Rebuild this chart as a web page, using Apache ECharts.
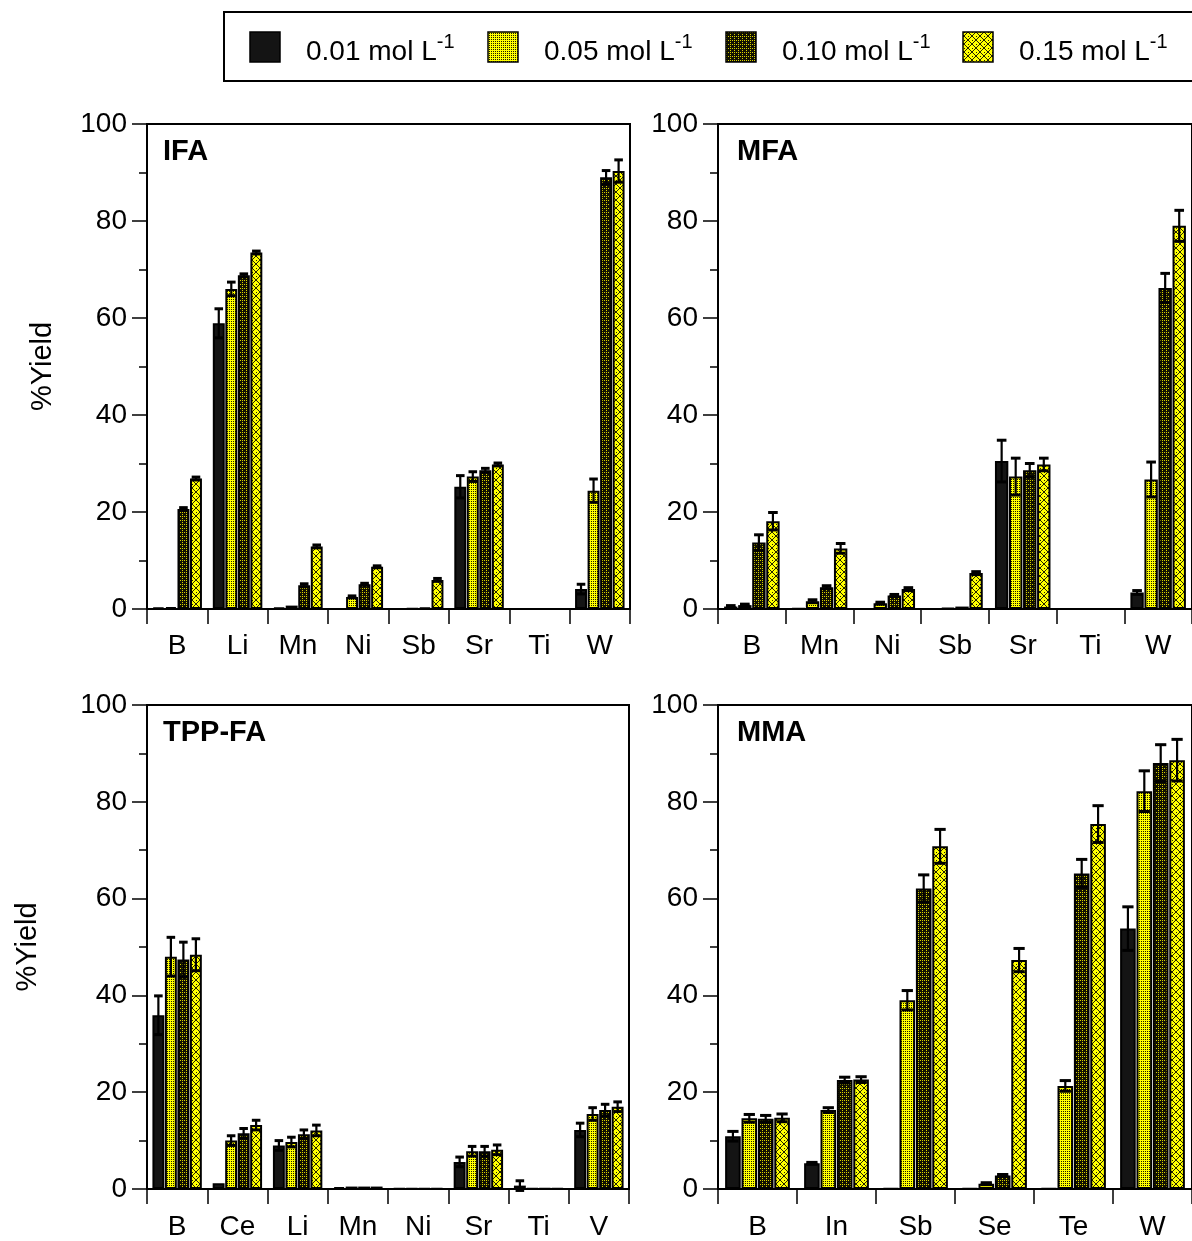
<!DOCTYPE html>
<html>
<head>
<meta charset="utf-8">
<script src="https://cdn.jsdelivr.net/npm/echarts@6/dist/echarts.min.js"></script>
<style>html,body{margin:0;padding:0;background:#fff;}#c{width:1192px;height:1241px;}</style>
</head>
<body>
<div id="c"></div>
<script>
// ---------- DATA ----------
const seriesNames = ['0.01', '0.05', '0.10', '0.15'];
const yTicks = [0, 20, 40, 60, 80, 100];

const ifaCats = ['B', 'Li', 'Mn', 'Ni', 'Sb', 'Sr', 'Ti', 'W'];
const ifa01 = [0.3, 58.9, 0.3, 0, 0, 25.2, 0, 4.1];
const ifa05 = [0.4, 66.0, 0.7, 2.5, 0.1, 27.3, -0.1, 24.4];
const ifa10 = [20.6, 68.8, 4.9, 5.1, 0.3, 28.6, -0.3, 89.0];
const ifa15 = [26.9, 73.5, 12.9, 8.7, 6.0, 29.8, -0.2, 90.3];
const ifa01e = [0, 3.0, 0, 0, 0, 2.3, 0, 1.0];
const ifa05e = [0, 1.4, 0, 0.2, 0, 1.0, 0, 2.4];
const ifa10e = [0.3, 0.3, 0.3, 0.2, 0, 0.4, 0, 1.4];
const ifa15e = [0.3, 0.3, 0.3, 0.2, 0.3, 0.3, 0, 2.3];

const mfaCats = ['B', 'Mn', 'Ni', 'Sb', 'Sr', 'Ti', 'W'];
const mfa01 = [0.5, 0.1, 0, 0, 30.5, 0, 3.4];
const mfa05 = [0.8, 1.6, 1.2, 0.2, 27.3, -0.1, 26.7];
const mfa10 = [13.7, 4.5, 2.8, 0.5, 28.6, -0.3, 66.2];
const mfa15 = [18.1, 12.5, 4.1, 7.4, 29.8, -0.1, 79.0];
const mfa01e = [0.2, 0, 0, 0, 4.3, 0, 0.4];
const mfa05e = [0.2, 0.3, 0.2, 0, 3.8, 0, 3.6];
const mfa10e = [1.6, 0.3, 0.2, 0, 1.4, 0, 3.0];
const mfa15e = [1.8, 1.0, 0.3, 0.3, 1.3, 0, 3.2];

const tppCats = ['B', 'Ce', 'Li', 'Mn', 'Ni', 'Sr', 'Ti', 'V'];
const tpp01 = [35.9, 1.2, 9.0, 0.4, 0.1, 5.6, 0.7, 12.2];
const tpp05 = [48.0, 10.0, 9.7, 0.5, 0.1, 7.8, 0.1, 15.5];
const tpp10 = [47.4, 11.5, 11.3, 0.5, 0.1, 7.8, 0.1, 16.3];
const tpp15 = [48.4, 13.2, 12.1, 0.5, 0.1, 8.1, 0.1, 17.0];
const tpp01e = [4.0, 0, 1.0, 0, 0, 1.0, 1.0, 1.4];
const tpp05e = [4.0, 1.0, 1.0, 0, 0, 1.0, 0, 1.3];
const tpp10e = [3.6, 1.0, 0.9, 0, 0, 1.0, 0, 1.2];
const tpp15e = [3.3, 1.0, 1.1, 0, 0, 1.0, 0, 1.0];

const mmaCats = ['B', 'In', 'Sb', 'Se', 'Te', 'W'];
const mma01 = [10.9, 5.3, 0.1, 0.1, 0.1, 53.8];
const mma05 = [14.6, 16.3, 39.0, 1.1, 21.3, 82.2];
const mma10 = [14.5, 22.5, 62.1, 2.8, 65.2, 88.0];
const mma15 = [14.7, 22.6, 70.8, 47.3, 75.4, 88.6];
const mma01e = [1.0, 0.2, 0, 0, 0, 4.5];
const mma05e = [0.8, 0.5, 2.0, 0.2, 1.1, 4.2];
const mma10e = [0.7, 0.6, 2.8, 0.2, 2.9, 3.8];
const mma15e = [0.8, 0.6, 3.5, 2.4, 3.8, 4.3];

// ---------- STYLE ----------
const FONT = '"Liberation Sans", Arial, Helvetica, sans-serif';
const CAT_GAP = 0.18, BAR_GAP = 0.05, NBAR = 4;

function pattern(kind) {
  const c = document.createElement('canvas');
  const s = kind === 4 ? 8 : 4;
  c.width = s; c.height = s;
  const g = c.getContext('2d');
  if (kind === 2) {
    g.fillStyle = '#ffff00'; g.fillRect(0, 0, s, s);
    g.fillStyle = '#1a1a00';
    g.fillRect(1, 1, 1, 1); g.fillRect(3, 1, 1, 1); g.fillRect(1, 3, 1, 1); g.fillRect(3, 3, 1, 1);
  } else if (kind === 3) {
    g.fillStyle = '#111100'; g.fillRect(0, 0, s, s);
    g.fillStyle = '#d8d000';
    g.fillRect(0, 0, 1, 1); g.fillRect(2, 2, 1, 1); g.fillRect(2, 0, 1, 1);
  } else {
    g.fillStyle = '#ffff00'; g.fillRect(0, 0, s, s);
    g.fillStyle = '#222200';
    for (let i = 0; i < s; i++) { g.fillRect(i, i, 1, 1); g.fillRect(s - 1 - i, i, 1, 1); }
    g.fillRect(0, 4, 1, 1); g.fillRect(4, 0, 1, 1);
  }
  return { image: c, repeat: 'repeat' };
}
const fills = ['#141414', pattern(2), pattern(3), pattern(4)];

const panels = [
  { title: 'IFA', cats: ifaCats, vals: [ifa01, ifa05, ifa10, ifa15], errs: [ifa01e, ifa05e, ifa10e, ifa15e],
    grid: { left: 147, top: 124, width: 483, height: 485 }, name: '%Yield', nameGap: 90, titleDx: 16, xMargin: 23 },
  { title: 'MFA', cats: mfaCats, vals: [mfa01, mfa05, mfa10, mfa15], errs: [mfa01e, mfa05e, mfa10e, mfa15e],
    grid: { left: 718, top: 124, width: 483, height: 485 }, name: '', titleDx: 19, xMargin: 23 },
  { title: 'TPP-FA', cats: tppCats, vals: [tpp01, tpp05, tpp10, tpp15], errs: [tpp01e, tpp05e, tpp10e, tpp15e],
    grid: { left: 147, top: 705, width: 482, height: 486 }, name: '%Yield', nameGap: 105, titleDx: 16, xMargin: 24 },
  { title: 'MMA', cats: mmaCats, vals: [mma01, mma05, mma10, mma15], errs: [mma01e, mma05e, mma10e, mma15e],
    grid: { left: 718, top: 705, width: 483, height: 486 }, name: '', titleDx: 19, xMargin: 24 }
];

const grids = [], xAxes = [], yAxes = [], series = [], graphics = [];
panels.forEach((p, gi) => {
  grids.push(Object.assign({ show: true, borderColor: '#000', borderWidth: 2, backgroundColor: 'transparent' }, p.grid));
  xAxes.push({
    type: 'category', gridIndex: gi, data: p.cats,
    axisLine: { lineStyle: { color: '#000', width: 2 } },
    axisTick: { show: true, length: 15, lineStyle: { color: '#000', width: 1.5 } },
    axisLabel: { color: '#000', fontSize: 28, fontFamily: FONT, margin: p.xMargin }
  });
  yAxes.push({
    type: 'value', gridIndex: gi, min: yTicks[0], max: yTicks[yTicks.length - 1], interval: 20,
    name: p.name, nameLocation: 'middle', nameRotate: 90, nameGap: p.nameGap || 0,
    nameTextStyle: { color: '#000', fontSize: 29, fontFamily: FONT },
    splitLine: { show: false },
    axisLine: { show: true, lineStyle: { color: '#000', width: 2 } },
    axisTick: { show: true, length: 15, lineStyle: { color: '#000', width: 1.5 } },
    minorTick: { show: true, splitNumber: 2, length: 8, lineStyle: { color: '#000', width: 1.5 } },
    axisLabel: { color: '#000', fontSize: 28, fontFamily: FONT, margin: 20,
      formatter: v => yTicks.indexOf(v) >= 0 ? String(v) : '' }
  });
  p.vals.forEach((arr, k) => {
    series.push({
      type: 'bar', name: seriesNames[k], xAxisIndex: gi, yAxisIndex: gi,
      data: arr, barCategoryGap: (CAT_GAP * 100) + '%', barGap: (BAR_GAP * 100) + '%',
      itemStyle: { color: fills[k], borderColor: '#000', borderWidth: 2 },
      emphasis: { disabled: true }, animation: false
    });
  });
  p.vals.forEach((arr, k) => {
    const errArr = p.errs[k];
    series.push({
      type: 'custom', xAxisIndex: gi, yAxisIndex: gi, z: 10, animation: false, silent: true,
      encode: { x: 0, y: 1 },
      data: arr.map((v, i) => [i, v, errArr[i]]),
      renderItem: (params, api) => {
        const cat = api.value(0), v = api.value(1), e = api.value(2);
        if (!e) return null;
        const bandW = api.size([1, 0])[0];
        const usable = bandW * (1 - CAT_GAP);
        const bw = usable / (NBAR + (NBAR - 1) * BAR_GAP);
        const cx = api.coord([cat, v])[0] - usable / 2 + k * bw * (1 + BAR_GAP) + bw / 2;
        const yt = api.coord([cat, v + e])[1];
        const yb = api.coord([cat, v - e])[1];
        const cap = bw * 0.36;
        const st = { stroke: '#000', lineWidth: 2.2 };
        return { type: 'group', children: [
          { type: 'line', shape: { x1: cx, y1: yt, x2: cx, y2: yb }, style: st },
          { type: 'line', shape: { x1: cx - cap, y1: yt, x2: cx + cap, y2: yt }, style: Object.assign({}, st, { lineWidth: 3 }) },
          { type: 'line', shape: { x1: cx - cap, y1: yb, x2: cx + cap, y2: yb }, style: Object.assign({}, st, { lineWidth: 3 }) }
        ] };
      }
    });
  });
  graphics.push({
    type: 'text', left: p.grid.left + p.titleDx, top: p.grid.top + 13,
    style: { text: p.title, fontSize: 29, fontWeight: 'bold', fontFamily: FONT, fill: '#000' }
  });
});

graphics.push({
  type: 'rect', shape: { x: 224, y: 12, width: 1000, height: 69 },
  style: { fill: 'transparent', stroke: '#000', lineWidth: 2 }, z: 0
});

const legendX = [250, 488, 726, 963];
// legend swatches drawn as plain rects (same fills as the series)
legendX.forEach((x, i) => {
  graphics.push({
    type: 'rect', shape: { x: x, y: 32, width: 30, height: 30 },
    style: { fill: fills[i], stroke: '#000', lineWidth: 1.5 }, z: 5
  });
});
const legends = seriesNames.map((n, i) => ({
  left: legendX[i], top: 27, padding: 0, icon: 'rect', itemWidth: 30, itemHeight: 30,
  data: [{ name: n, itemStyle: { opacity: 0 } }],
  selectedMode: false,
  formatter: name => '{a|' + name + ' mol L}{s|-1}',
  textStyle: {
    color: '#000', fontFamily: FONT,
    rich: {
      a: { fontSize: 28, fontFamily: FONT, color: '#000', lineHeight: 42, padding: [8, 0, 0, 20] },
      s: { fontSize: 20, fontFamily: FONT, color: '#000', lineHeight: 20, padding: [5, 0, 0, 0], verticalAlign: 'top' }
    }
  }
}));

const chart = echarts.init(document.getElementById('c'), null, { renderer: 'canvas' });
chart.setOption({
  animation: false,
  backgroundColor: '#fff',
  legend: legends,
  grid: grids,
  xAxis: xAxes,
  yAxis: yAxes,
  series: series,
  graphic: graphics
});
</script>
</body>
</html>
